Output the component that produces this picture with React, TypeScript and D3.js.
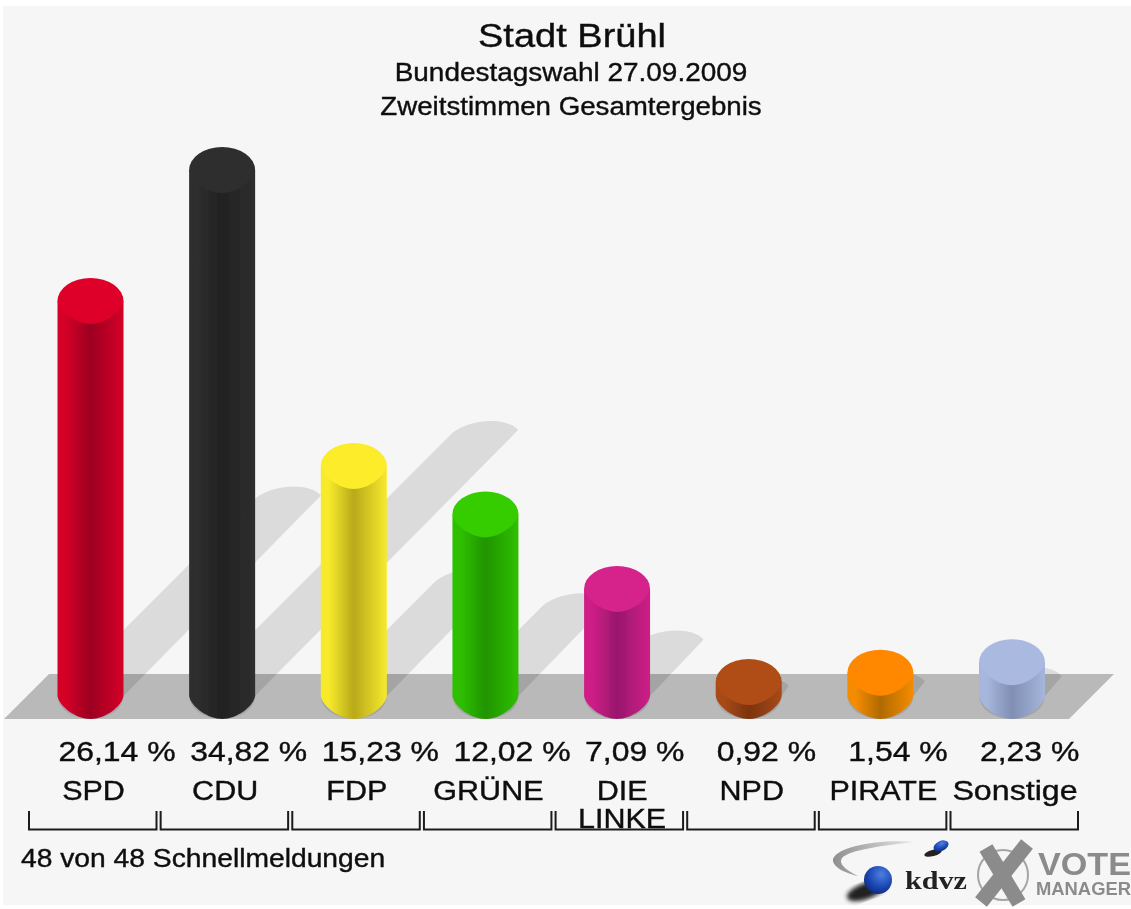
import React, { useEffect, useRef } from 'react';
import * as d3 from 'd3';

const parties = ['SPD', 'CDU', 'FDP', 'GRÜNE', 'DIE LINKE', 'NPD', 'PIRATE', 'Sonstige'];
const values = [26.14, 34.82, 15.23, 12.02, 7.09, 0.92, 1.54, 2.23];
const valueLabels = ['26,14 %', '34,82 %', '15,23 %', '12,02 %', '7,09 %', '0,92 %', '1,54 %', '2,23 %'];
const topColors = ['#df0029', '#2f2f2f', '#fdec2b', '#35cc00', '#d6218b', '#b04e15', '#ff8800', '#a9b9e0'];
const sideColors = ['#d40028', '#2e2e2e', '#f7ea2c', '#2fc000', '#cf1f87', '#a84a14', '#f58c00', '#a6b6dc'];
const darkColors = ['#9c0021', '#222222', '#b9a91b', '#209400', '#98176c', '#7c3410', '#b06a00', '#808fb3'];

const FONT = '"Liberation Sans", Arial, sans-serif';
const RX = 33;
const RY = 23;
const BASE_Y = 696;

// lower half of a cylinder end, a bit pointed like in the original render
const lowerEdge = (cx: number, cy: number) =>
  `C${cx - RX + 2},${cy + 11} ${cx - 14},${cy + RY} ${cx},${cy + RY} `
  + `C${cx + 14},${cy + RY} ${cx + RX - 2},${cy + 11} ${cx + RX},${cy}`;

export default function App() {
  const ref = useRef<SVGSVGElement>(null);

  useEffect(() => {
    const svg = d3.select(ref.current);
    svg.selectAll('*').remove();

    const x = d3.scalePoint<string>().domain(parties).range([90.5, 1012]);
    const y = d3.scaleLinear().domain([0, 34.82]).range([BASE_Y, 170]);

    const defs = svg.append('defs');
    defs.append('filter').attr('id', 'soft')
      .attr('x', '-5%').attr('y', '-5%').attr('width', '110%').attr('height', '110%')
      .append('feGaussianBlur').attr('stdDeviation', 0.5);
    defs.append('filter').attr('id', 'softer')
      .append('feGaussianBlur').attr('stdDeviation', 2);

    parties.forEach((p, i) => {
      const grad = defs.append('linearGradient').attr('id', `side${i}`);
      grad.append('stop').attr('offset', '0%').attr('stop-color', sideColors[i]);
      grad.append('stop').attr('offset', '12%').attr('stop-color', sideColors[i]);
      grad.append('stop').attr('offset', '50%').attr('stop-color', darkColors[i]);
      grad.append('stop').attr('offset', '100%').attr('stop-color', sideColors[i]);
    });

    const blue = defs.append('radialGradient').attr('id', 'sphere')
      .attr('cx', '62%').attr('cy', '30%').attr('r', '80%');
    blue.append('stop').attr('offset', '0%').attr('stop-color', '#4f7fe0');
    blue.append('stop').attr('offset', '55%').attr('stop-color', '#1c49b5');
    blue.append('stop').attr('offset', '100%').attr('stop-color', '#0a2470');

    const swoosh = defs.append('linearGradient').attr('id', 'swoosh');
    swoosh.append('stop').attr('offset', '0%').attr('stop-color', '#8f8f8f');
    swoosh.append('stop').attr('offset', '100%').attr('stop-color', '#e8e8e8');

    const g = svg.append('g').attr('filter', 'url(#soft)');

    // panel and floor
    g.append('rect').attr('x', 3).attr('y', 6).attr('width', 1128).attr('height', 899).attr('fill', '#f6f6f6');
    g.append('path').attr('d', 'M4,719 L49,674 L1114,674 L1069,719 Z').attr('fill', '#b9b9b9');

    // shadows run off at 45 degrees, half as long as the bar is high
    g.append('g').attr('opacity', 0.105)
      .selectAll('path')
      .data(parties)
      .enter().append('path')
      .attr('fill', '#000')
      .attr('d', (p, i) => {
        const cx = x(p)!;
        const len = (BASE_Y - y(values[i])) / 2;
        const ex = cx + len;
        const ey = BASE_Y - len;
        return `M${cx - RX},${BASE_Y} L${ex - RX},${ey} `
          + `C${ex - 14},${ey - 15} ${ex + 22},${ey - 16} ${ex + RX},${ey - 3} `
          + `L${cx + RX},${BASE_Y} A${RX},${RY} 0 0 1 ${cx - RX},${BASE_Y} Z`;
      });

    // cylinders
    const bars = g.selectAll('g.bar')
      .data(parties)
      .enter().append('g').attr('class', 'bar');
    bars.append('path')
      .attr('fill', (p, i) => `url(#side${i})`)
      .attr('d', (p, i) => {
        const cx = x(p)!;
        return `M${cx - RX},${y(values[i])} L${cx - RX},${BASE_Y} ${lowerEdge(cx, BASE_Y)} L${cx + RX},${y(values[i])} Z`;
      });
    bars.append('path')
      .attr('fill', (p, i) => topColors[i])
      .attr('d', (p, i) => {
        const cx = x(p)!;
        const cy = y(values[i]);
        return `M${cx - RX},${cy} ${lowerEdge(cx, cy)} A${RX},${RY} 0 0 0 ${cx - RX},${cy} Z`;
      });

    const label = (txt: string, tx: number, ty: number, size: number, sx: number, anchor = 'middle') =>
      g.append('text')
        .attr('transform', `translate(${tx},${ty}) scale(${sx},1)`)
        .attr('text-anchor', anchor)
        .attr('font-family', FONT)
        .attr('font-size', size)
        .attr('fill', '#111')
        .attr('stroke', '#111')
        .attr('stroke-width', 0.4)
        .text(txt);

    label('Stadt Brühl', 572, 47, 34, 1.118);
    label('Bundestagswahl 27.09.2009', 571, 81, 26, 1.075);
    label('Zweitstimmen Gesamtergebnis', 571, 115, 26, 1.065);

    parties.forEach((p, i) => {
      const cx = x(p)!;
      label(valueLabels[i], cx - RX + 1, 761, 28, 1.14, 'start');
      if (p === 'DIE LINKE') {
        label('DIE', cx + 5, 800, 28, 1.09);
        label('LINKE', cx + 5, 828, 28, 1.09);
      } else {
        label(p, cx + 3, 800, 28, p === 'Sonstige' ? 1.15 : 1.09);
      }
      g.append('path')
        .attr('d', `M${cx - 61.5},811 V829.5 H${cx + 66} V811`)
        .attr('fill', 'none')
        .attr('stroke', '#1a1a1a')
        .attr('stroke-width', 2);
    });

    label('48 von 48 Schnellmeldungen', 21, 867, 25, 1.13, 'start');

    // kdvz logo
    const logo = g.append('g');
    logo.append('path')
      .attr('d', 'M915,842 C880,839 838,846 833,859 C832,867 845,873 858,876 C846,870 838,864 842,858 C849,850 885,845 915,842 Z')
      .attr('fill', 'url(#swoosh)');
    logo.append('ellipse').attr('cx', 866).attr('cy', 891).attr('rx', 20).attr('ry', 8)
      .attr('transform', 'rotate(-20 866 891)').attr('fill', '#222').attr('filter', 'url(#softer)');
    logo.append('circle').attr('cx', 878).attr('cy', 880).attr('r', 14).attr('fill', 'url(#sphere)');
    logo.append('ellipse').attr('cx', 933).attr('cy', 853).attr('rx', 9).attr('ry', 3)
      .attr('transform', 'rotate(-15 933 853)').attr('fill', '#222');
    logo.append('ellipse').attr('cx', 941).attr('cy', 846).attr('rx', 8).attr('ry', 5)
      .attr('transform', 'rotate(-25 941 846)').attr('fill', 'url(#sphere)');
    logo.append('text')
      .attr('x', 905).attr('y', 889)
      .attr('font-family', '"Liberation Serif", serif')
      .attr('font-weight', 'bold')
      .attr('font-size', 25)
      .attr('textLength', 62)
      .attr('lengthAdjust', 'spacingAndGlyphs')
      .attr('fill', '#222')
      .text('kdvz');

    // vote manager logo
    const grey = '#8b8b8b';
    logo.append('circle').attr('cx', 1003).attr('cy', 875).attr('r', 25)
      .attr('fill', 'none').attr('stroke', '#a5a5a5').attr('stroke-width', 2);
    logo.append('path').attr('d', 'M986,848 L1019,903').attr('stroke', grey).attr('stroke-width', 15);
    logo.append('path').attr('d', 'M1027,844 L981,902').attr('stroke', grey).attr('stroke-width', 15);
    logo.append('text')
      .attr('x', 1038).attr('y', 875)
      .attr('font-family', FONT).attr('font-weight', 'bold').attr('font-size', 31)
      .attr('textLength', 93).attr('lengthAdjust', 'spacingAndGlyphs')
      .attr('fill', grey).text('VOTE');
    logo.append('text')
      .attr('x', 1036).attr('y', 895)
      .attr('font-family', FONT).attr('font-weight', 'bold').attr('font-size', 18)
      .attr('textLength', 95).attr('lengthAdjust', 'spacingAndGlyphs')
      .attr('fill', grey).text('MANAGER');
  }, []);

  return (
    <svg
      ref={ref}
      width={1131}
      height={909}
      style={{ position: 'absolute', left: 0, top: 0, display: 'block', background: '#fff' }}
    />
  );
}
